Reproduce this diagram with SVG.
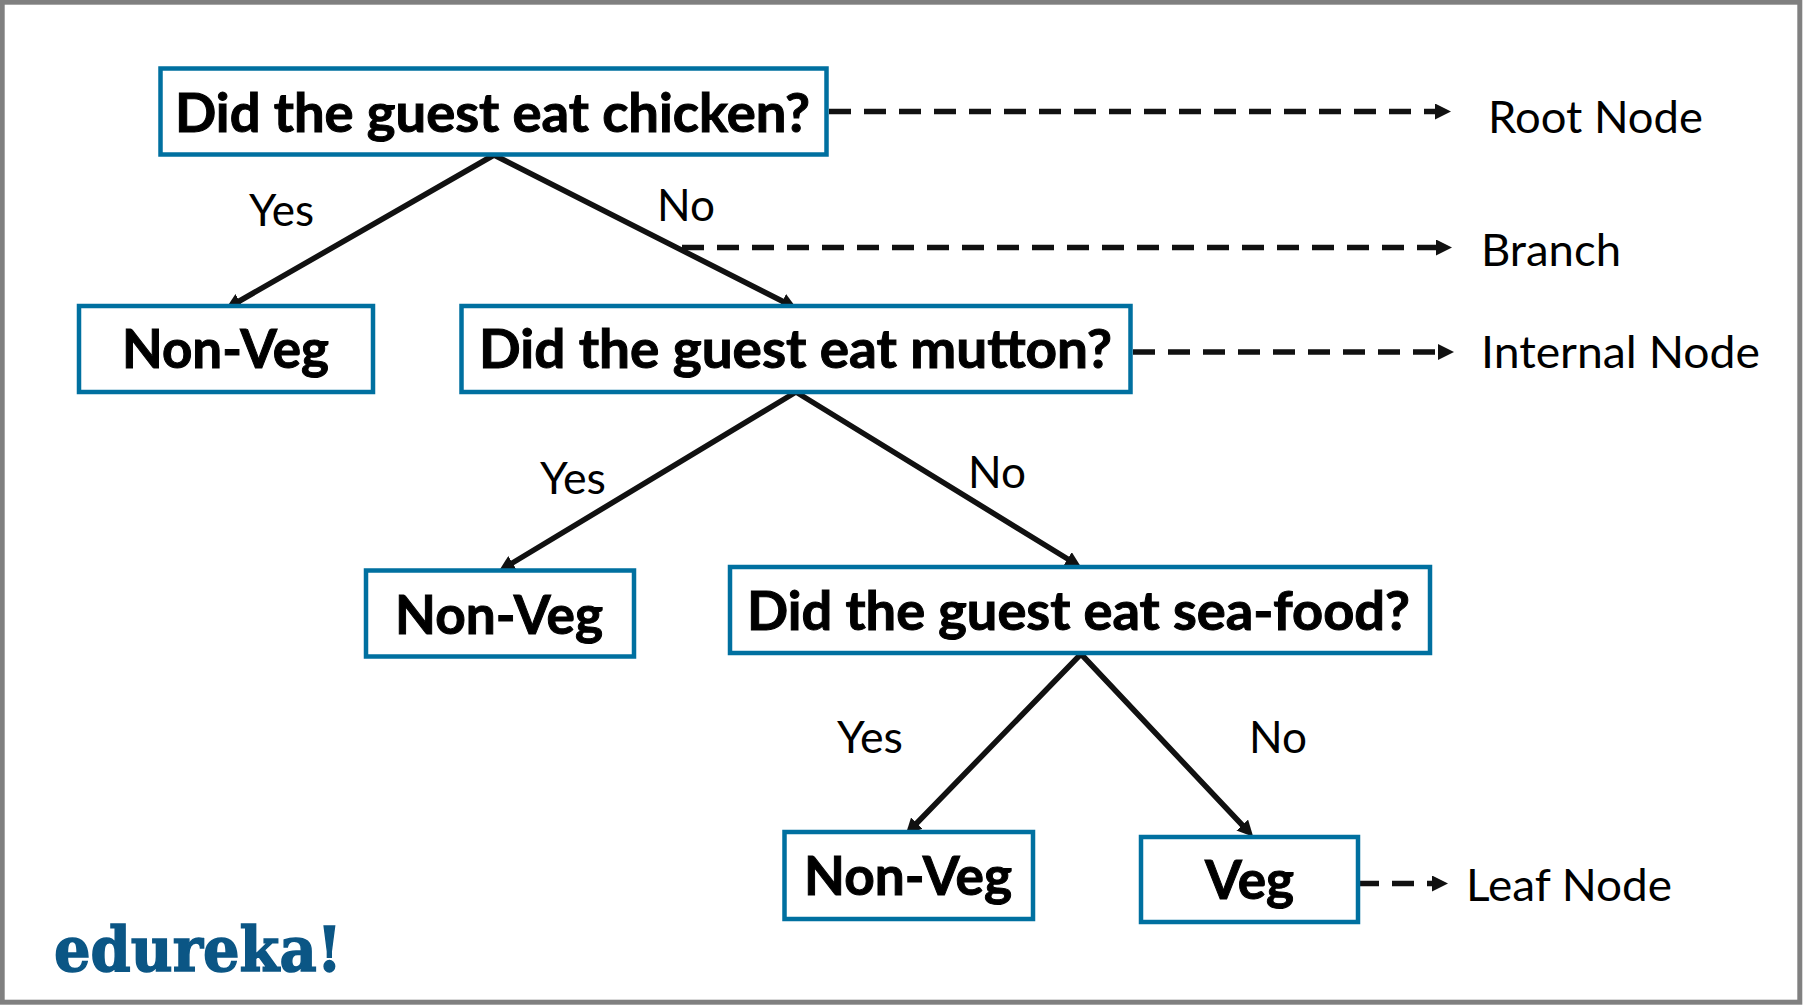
<svg xmlns="http://www.w3.org/2000/svg" width="1803" height="1005" viewBox="0 0 1803 1005">
<style>
.box{fill:#fff;stroke:#0070a0;stroke-width:4.5}
.t{font-family:Lato,"Liberation Sans",sans-serif;font-weight:700;font-size:54px;fill:#000;stroke:#000;stroke-width:1}
.l{font-family:Lato,"Liberation Sans",sans-serif;font-weight:400;font-size:44px;fill:#000}
.c{fill:none;stroke:#111;stroke-width:5.5;stroke-linecap:round;marker-end:url(#a)}
.d{fill:none;stroke:#111;stroke-width:5.5;stroke-dasharray:22 13;marker-end:url(#a)}
</style>
<defs>
<marker id="a" markerUnits="userSpaceOnUse" viewBox="0 0 16 16" refX="4" refY="8" markerWidth="16" markerHeight="16" orient="auto">
<path d="M0,0L16,8L0,16Z" fill="#111"/>
</marker>
</defs>
<rect id="frame" x="2.2" y="2.2" width="1797.6" height="1000" fill="#fff" stroke="#808080" stroke-width="5"/>
<g id="connectors">
<path class="c" d="M494,155L236,303"/>
<path class="c" d="M494,155L786,303"/>
<path class="c" d="M796,392L509,565"/>
<path class="c" d="M796,392L1071,561"/>
<path class="c" d="M1081,654L914,826"/>
<path class="c" d="M1081,654L1245,828"/>
<path class="d" d="M829,111.500H1439"/>
<path class="d" d="M682,247.500H1440"/>
<path class="d" d="M1133,352H1442"/>
<path class="d" d="M1357,883.500H1436"/>
</g>
<g id="root"><rect class="box" x="160.500" y="68.500" width="666" height="86"/><text class="t" x="175" y="132" textLength="635" lengthAdjust="spacingAndGlyphs">Did the guest eat chicken?</text></g>
<g id="nonveg1"><rect class="box" x="79" y="306" width="294" height="86"/><text class="t" x="122" y="368" textLength="207" lengthAdjust="spacingAndGlyphs">Non-Veg</text></g>
<g id="mutton"><rect class="box" x="461.500" y="306" width="669" height="86"/><text class="t" x="479" y="368" textLength="633" lengthAdjust="spacingAndGlyphs">Did the guest eat mutton?</text></g>
<g id="nonveg2"><rect class="box" x="366" y="570.500" width="268" height="86"/><text class="t" x="395" y="634" textLength="208" lengthAdjust="spacingAndGlyphs">Non-Veg</text></g>
<g id="seafood"><rect class="box" x="730" y="567" width="700" height="86"/><text class="t" x="747" y="630" textLength="663" lengthAdjust="spacingAndGlyphs">Did the guest eat sea-food?</text></g>
<g id="nonveg3"><rect class="box" x="784.500" y="832" width="248.500" height="87"/><text class="t" x="804" y="895" textLength="208" lengthAdjust="spacingAndGlyphs">Non-Veg</text></g>
<g id="veg"><rect class="box" x="1141" y="837" width="217" height="85"/><text class="t" x="1205" y="899" textLength="89" lengthAdjust="spacingAndGlyphs">Veg</text></g>
<g id="labels">
<text class="l" x="249" y="226" textLength="65" lengthAdjust="spacingAndGlyphs">Yes</text>
<text class="l" x="657" y="221" textLength="58" lengthAdjust="spacingAndGlyphs">No</text>
<text class="l" x="540" y="494" textLength="66" lengthAdjust="spacingAndGlyphs">Yes</text>
<text class="l" x="968" y="488" textLength="58" lengthAdjust="spacingAndGlyphs">No</text>
<text class="l" x="837" y="753" textLength="66" lengthAdjust="spacingAndGlyphs">Yes</text>
<text class="l" x="1249" y="753" textLength="58" lengthAdjust="spacingAndGlyphs">No</text>
<text class="l" x="1488" y="133" textLength="215" lengthAdjust="spacingAndGlyphs">Root Node</text>
<text class="l" x="1481" y="266" textLength="140" lengthAdjust="spacingAndGlyphs">Branch</text>
<text class="l" x="1481" y="368" textLength="279" lengthAdjust="spacingAndGlyphs">Internal Node</text>
<text class="l" x="1466" y="901" textLength="206" lengthAdjust="spacingAndGlyphs">Leaf Node</text>
</g>
<text id="logo" x="54" y="971" font-family="'DejaVu Serif',serif" font-weight="700" font-size="62" fill="#0b5685" stroke="#0b5685" stroke-width="1.5" textLength="288" lengthAdjust="spacingAndGlyphs">edureka!</text>
</svg>
